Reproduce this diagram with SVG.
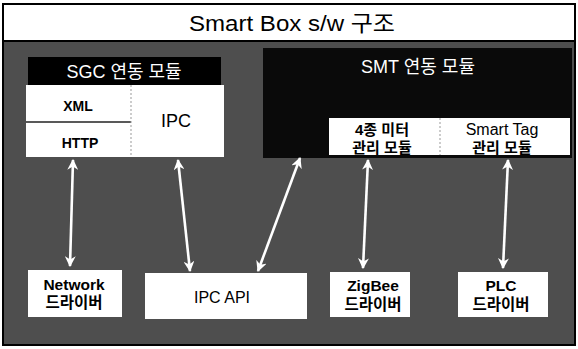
<svg xmlns="http://www.w3.org/2000/svg" width="578" height="349" viewBox="0 0 578 349">
<defs>
<style>
.t{font-family:"Liberation Sans","Noto Sans CJK KR",sans-serif;text-anchor:middle}
.w{fill:#fff}
.k{fill:#000}
.b{font-weight:bold}
.box{fill:#fff}
.arr{stroke:#fff;stroke-width:2.6;fill:none;marker-start:url(#ah);marker-end:url(#ah)}
</style>
<marker id="ah" viewBox="0 0 10 10" refX="9" refY="5" markerWidth="4.2" markerHeight="4.2" orient="auto-start-reverse" markerUnits="strokeWidth">
<path d="M0,0 L10,5 L0,10 L3,5 Z" fill="#fff"/>
</marker>
</defs>
<rect x="0" y="0" width="578" height="349" fill="#fff"/>
<rect x="3" y="41" width="572" height="304" fill="#4e4e4e"/>
<rect x="3" y="4" width="572" height="341" fill="none" stroke="#000" stroke-width="2"/>
<line x1="3" y1="41" x2="575" y2="41" stroke="#000" stroke-width="2"/>
<text class="t k" x="292" y="31" font-size="22" textLength="206" lengthAdjust="spacingAndGlyphs">Smart Box s/w 구조</text>

<g id="sgc">
<rect x="28" y="57" width="193" height="28" fill="#000"/>
<text class="t w" x="124" y="78" font-size="18">SGC 연동 모듈</text>
<rect class="box" x="26" y="85" width="198" height="72"/>
<line x1="26" y1="122" x2="131" y2="122" stroke="#222" stroke-width="1.5"/>
<line x1="131" y1="85" x2="131" y2="157" stroke="#999" stroke-width="1" stroke-dasharray="2,2"/>
<text class="t k b" x="78" y="111" font-size="14">XML</text>
<text class="t k b" x="80" y="148" font-size="14">HTTP</text>
<text class="t k" x="176" y="127" font-size="18">IPC</text>
</g>

<g id="smt">
<rect x="263" y="48" width="309" height="110" fill="#0a0a0a"/>
<text class="t w" x="418" y="73" font-size="18">SMT 연동 모듈</text>
<rect class="box" x="329" y="118" width="241" height="37"/>
<line x1="440" y1="118" x2="440" y2="155" stroke="#999" stroke-width="1" stroke-dasharray="2,2"/>
<text class="t k b" x="382" y="135" font-size="15">4종 미터</text>
<text class="t k b" x="382" y="153" font-size="15">관리 모듈</text>
<text class="t k" x="502" y="135" font-size="16">Smart Tag</text>
<text class="t k b" x="502" y="153" font-size="15">관리 모듈</text>
</g>

<g id="network">
<rect class="box" x="28" y="270" width="94" height="47"/>
<text class="t k b" x="74" y="290" font-size="15.5">Network</text>
<text class="t k b" x="74" y="308" font-size="15.5">드라이버</text>
</g>
<g id="ipcapi">
<rect class="box" x="145" y="273" width="162" height="46"/>
<text class="t k" x="222" y="303" font-size="16">IPC API</text>
</g>
<g id="zigbee">
<rect class="box" x="330" y="272" width="80" height="45"/>
<text class="t k b" x="373" y="291" font-size="15.5">ZigBee</text>
<text class="t k b" x="373" y="310" font-size="15.5">드라이버</text>
</g>
<g id="plc">
<rect class="box" x="458" y="272" width="90" height="45"/>
<text class="t k b" x="501" y="291" font-size="15.5">PLC</text>
<text class="t k b" x="501" y="310" font-size="15.5">드라이버</text>
</g>

<g id="connectors">
<line class="arr" x1="73" y1="160" x2="70" y2="266"/>
<line class="arr" x1="178" y1="160" x2="190" y2="271"/>
<line class="arr" x1="300" y1="158" x2="258" y2="271"/>
<line class="arr" x1="368" y1="160" x2="363" y2="268"/>
<line class="arr" x1="508" y1="160" x2="503" y2="268"/>
</g>
</svg>
